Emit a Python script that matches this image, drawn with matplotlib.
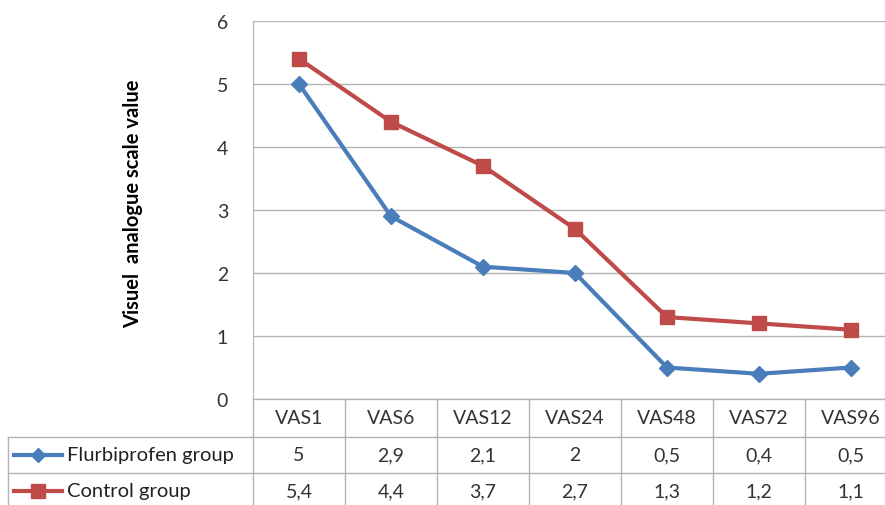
import matplotlib.pyplot as plt
from matplotlib.lines import Line2D
import matplotlib.transforms as mtransforms

plt.rcParams['font.family'] = ['Lato', 'DejaVu Sans']

# data
categories = ["VAS1", "VAS6", "VAS12", "VAS24", "VAS48", "VAS72", "VAS96"]
flurbiprofen = [5, 2.9, 2.1, 2, 0.5, 0.4, 0.5]
control = [5.4, 4.4, 3.7, 2.7, 1.3, 1.2, 1.1]
series_names = ["Flurbiprofen group", "Control group"]

blue = "#4a7ebb"
red = "#be4b48"
grid_c = "#b4b4b4"
txt_c = "#333333"

W, H = 885, 506
fig = plt.figure(figsize=(W / 100, H / 100), dpi=100)

x0, x_right, y_top, y_bot = 253, 897, 22, 400
ax = fig.add_axes([x0 / W, 1 - y_bot / H, (x_right - x0) / W, (y_bot - y_top) / H])

xs = range(len(categories))
ax.plot(xs, flurbiprofen, color=blue, lw=3, marker="D", ms=8, zorder=3)
ax.plot(xs, control, color=red, lw=3, marker="s", ms=10, zorder=3)

ax.set_xlim(-0.5, len(categories) - 0.5)
ax.set_ylim(0, 6)
ax.set_yticks(range(7))
ax.grid(axis="y", color=grid_c, lw=1)
ax.set_axisbelow(True)
ax.set_xticks([])
for s in ["top", "right", "bottom"]:
    ax.spines[s].set_visible(False)
ax.spines["left"].set_color(grid_c)
ax.tick_params(axis="y", length=0, pad=18, labelsize=14, colors=txt_c)
ax.set_ylabel("Visuel  analogue scale value", fontsize=14.5, fontweight="bold")
ax.yaxis.set_label_coords((143 - x0) / (x_right - x0), 0.52)

# data table below the axis
def fy(py):
    return 1 - py / H

def fx(px):
    return px / W

rows_y = [y_bot, y_bot + 38, y_bot + 74]
col_w = (x_right - x0) / len(categories)
lc = dict(color=grid_c, lw=1, transform=fig.transFigure)

# horizontal lines
fig.add_artist(Line2D([fx(x0), fx(W)], [fy(rows_y[0])] * 2, **lc))
for ry in rows_y[1:]:
    fig.add_artist(Line2D([fx(8), fx(W)], [fy(ry)] * 2, **lc))
# vertical lines
for k in range(len(categories) + 1):
    px = x0 + k * col_w
    fig.add_artist(Line2D([fx(px)] * 2, [fy(rows_y[0]), fy(H)], **lc))
fig.add_artist(Line2D([fx(8)] * 2, [fy(rows_y[1]), fy(H)], **lc))

trans = mtransforms.blended_transform_factory(ax.transData, fig.transFigure)
for i, cat in enumerate(categories):
    ax.text(i, fy(y_bot + 19), cat, transform=trans, ha="center", va="center",
            fontsize=14, color=txt_c)

for r, (vals, name, col, mk, ms) in enumerate([
        (flurbiprofen, series_names[0], blue, "D", 7),
        (control, series_names[1], red, "s", 10)]):
    cy = fy(rows_y[1] + r * 36 + 18)
    fig.add_artist(Line2D([fx(14), fx(62)], [cy, cy], color=col, lw=3,
                          transform=fig.transFigure))
    fig.add_artist(Line2D([fx(38)], [cy], color=col, marker=mk, ms=ms,
                          transform=fig.transFigure))
    fig.text(fx(67), cy, name, ha="left", va="center", fontsize=14.5, color="#222222")
    for i, v in enumerate(vals):
        ax.text(i, cy, f"{v:g}".replace(".", ","), transform=trans, ha="center",
                va="center", fontsize=14, color=txt_c)

fig.savefig("out.png", dpi=100)
